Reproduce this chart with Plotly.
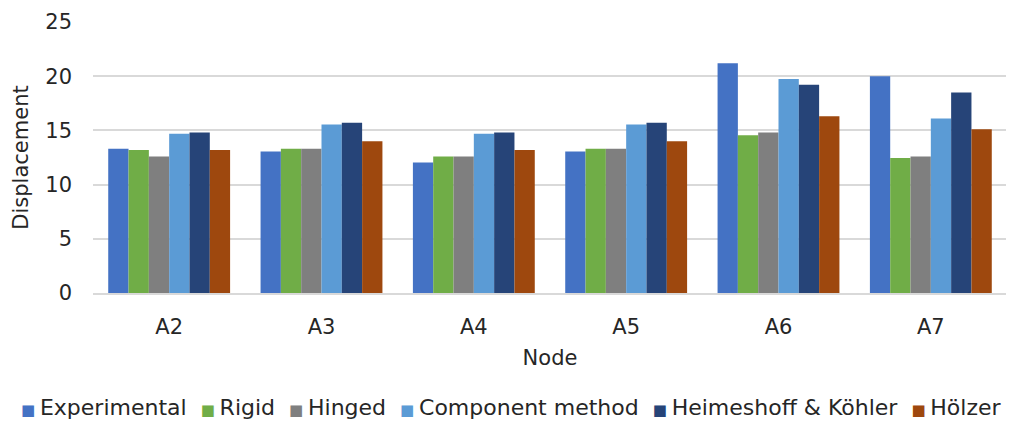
import plotly.graph_objects as go

nodes = ["A2", "A3", "A4", "A5", "A6", "A7"]
experimental = [13.3, 13.05, 12.05, 13.05, 21.2, 20.0]
rigid = [13.2, 13.3, 12.6, 13.3, 14.55, 12.45]
hinged = [12.6, 13.3, 12.6, 13.3, 14.8, 12.6]
component = [14.7, 15.55, 14.7, 15.55, 19.75, 16.1]
heimeshoff = [14.8, 15.7, 14.8, 15.7, 19.2, 18.5]
holzer = [13.2, 14.0, 13.2, 14.0, 16.3, 15.1]

series = [
    ("Experimental", experimental, "#4472C4"),
    ("Rigid", rigid, "#70AD47"),
    ("Hinged", hinged, "#7F7F7F"),
    ("Component method", component, "#5B9BD5"),
    ("Heimeshoff & Köhler", heimeshoff, "#264478"),
    ("Hölzer", holzer, "#9E480E"),
]

font = "DejaVu Sans, Verdana, sans-serif"
txtcol = "#262626"
fig = go.Figure()
for name, vals, col in series:
    fig.add_trace(go.Bar(x=nodes, y=vals, name=name, showlegend=False,
                         marker=dict(color=col, line=dict(width=0))))

# custom one-row legend built from the series list
parts = []
for name, vals, col in series:
    parts.append(f"<span style='color:{col};font-size:15px'>■ </span>{name}")
legend_text = "  ".join(parts)
fig.add_annotation(text=legend_text, xref="paper", yref="paper", x=(503 - 85) / 914, y=-0.424,
                   xanchor="center", yanchor="middle", showarrow=False,
                   font=dict(family=font, size=22, color=txtcol))

# page body has an 8px margin, so the figure is sized 8px smaller
fig.update_layout(
    width=1006, height=413,
    paper_bgcolor="white", plot_bgcolor="white",
    margin=dict(l=85, r=7, t=14, b=128),
    barmode="group", bargap=0.2, bargroupgap=0,
    font=dict(family=font, size=21, color=txtcol),
)
fig.update_yaxes(range=[0, 25], dtick=5, showgrid=True, gridcolor="#D9D9D9", gridwidth=1.5,
                 zeroline=False, showline=False, ticks="", tickfont=dict(size=21),
                 ticklabelstandoff=20, automargin=False,
                 title=dict(text="Displacement", font=dict(size=21), standoff=10))
fig.update_xaxes(showline=True, linecolor="#D9D9D9", linewidth=1.5, ticks="",
                 tickfont=dict(size=21), ticklabelstandoff=14, automargin=False,
                 title=dict(text="Node", font=dict(size=21), standoff=12))

fig.write_html("out.html")
